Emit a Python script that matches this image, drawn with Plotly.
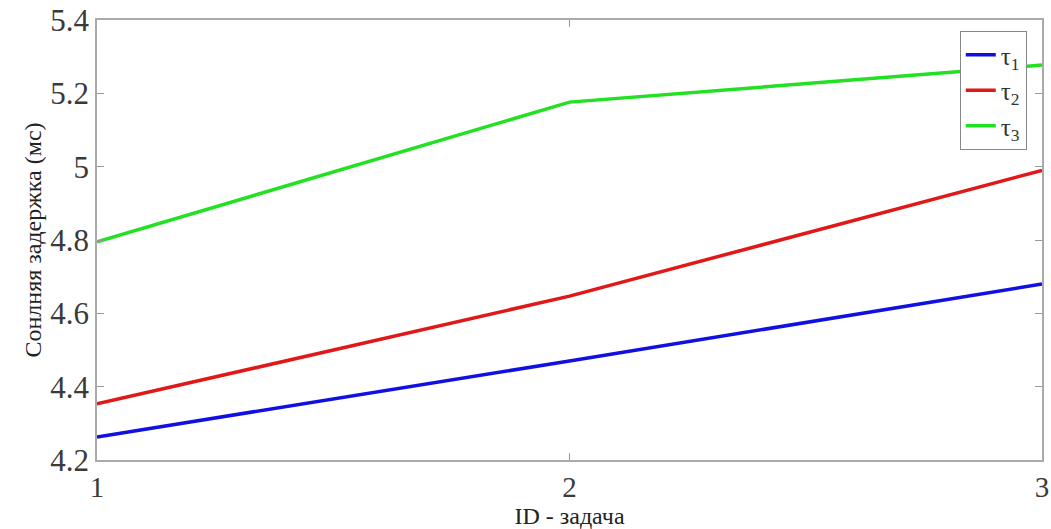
import plotly.graph_objects as go

# Task IDs and mean delays (ms) for each tau setting
task_ids = [1, 2, 3]
tau1 = [4.263, 4.47, 4.68]
tau2 = [4.353, 4.647, 4.99]
tau3 = [4.795, 5.176, 5.277]

series = [
    ("τ<sub>1</sub>", tau1, "#1010e0"),
    ("τ<sub>2</sub>", tau2, "#e01818"),
    ("τ<sub>3</sub>", tau3, "#22e022"),
]

fig = go.Figure()
for name, vals, color in series:
    fig.add_trace(go.Scatter(
        x=task_ids, y=vals, mode="lines", name=name,
        line=dict(color=color, width=3.5),
        cliponaxis=False,
    ))

font_family = "Times New Roman, Liberation Serif, DejaVu Serif, serif"

fig.update_layout(
    width=1051, height=529,
    margin=dict(l=97, r=2, t=20, b=69),
    paper_bgcolor="white", plot_bgcolor="white",
    font=dict(family=font_family, color="#333333"),
    showlegend=True,
    legend=dict(
        x=0.913, y=0.975, xanchor="left", yanchor="top",
        bgcolor="white", bordercolor="#888888", borderwidth=1,
        font=dict(size=25, family=font_family, color="#333333"),
        itemwidth=30,
    ),
)

fig.update_xaxes(
    range=[1, 3], tickvals=[1, 2, 3], ticktext=["1", "2", "3"],
    ticks="inside", ticklen=7, tickcolor="#999999",
    showline=True, linecolor="#aaaaaa", linewidth=1.5, mirror="ticks",
    showgrid=False, zeroline=False, ticklabeloverflow="allow",
    tickfont=dict(size=29, family=font_family, color="#3a3a3a"),
    title=dict(text="ID - задача", font=dict(size=24, family=font_family, color="#222222"),
               standoff=0),
)
fig.update_yaxes(
    range=[4.2, 5.4], tickvals=[4.2, 4.4, 4.6, 4.8, 5.0, 5.2, 5.4],
    ticktext=["4.2", "4.4", "4.6", "4.8", "5", "5.2", "5.4"],
    ticks="inside", ticklen=7, tickcolor="#999999",
    showline=True, linecolor="#aaaaaa", linewidth=1.5, mirror="ticks",
    showgrid=False, zeroline=False,
    tickfont=dict(size=31, family=font_family, color="#3a3a3a"),
    title=dict(text="Сонлняя задержка (мс)", font=dict(size=24, family=font_family, color="#222222"),
               standoff=2),
)

fig.write_html("out.html")
